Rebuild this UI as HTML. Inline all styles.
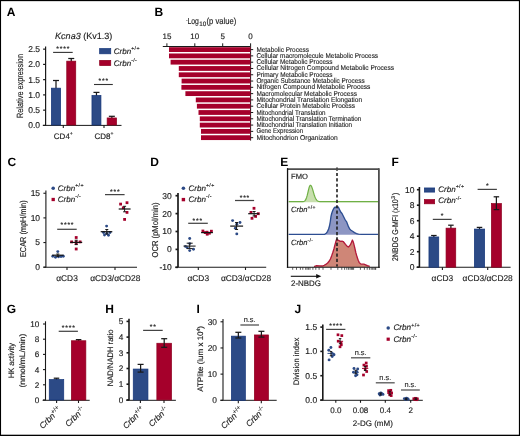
<!DOCTYPE html>
<html><head><meta charset="utf-8"><style>
html,body{margin:0;padding:0;background:#fff;}
body{width:520px;height:436px;overflow:hidden;}
svg{display:block;font-family:"Liberation Sans", sans-serif;-webkit-font-smoothing:antialiased;will-change:transform;}
text{text-rendering:geometricPrecision;stroke:#222;stroke-width:0.15px;}
text[font-weight=bold]{stroke:none;}
</style></head><body>
<svg width="520" height="436" viewBox="0 0 520 436" font-family='"Liberation Sans", sans-serif'>
<rect x="0" y="0" width="520" height="436" fill="#fff"/>
<text x="6.80" y="15.90" font-size="12" text-anchor="start" fill="#000" font-weight="bold" font-style="normal" >A</text>
<text x="55.1" y="39.2" font-size="9" fill="#222" textLength="57.2" lengthAdjust="spacingAndGlyphs"><tspan font-style="italic">Kcna3</tspan> (Kv1.3)</text>
<line x1="45.60" y1="46.45" x2="45.60" y2="125.40" stroke="#1a1a1a" stroke-width="1.2" />
<line x1="43.10" y1="125.40" x2="45.60" y2="125.40" stroke="#1a1a1a" stroke-width="1.2" />
<text x="40.10" y="128.30" font-size="8.5" text-anchor="end" fill="#222" font-weight="normal" font-style="normal" class="t" >0.0</text>
<line x1="43.10" y1="110.15" x2="45.60" y2="110.15" stroke="#1a1a1a" stroke-width="1.2" />
<text x="40.10" y="113.05" font-size="8.5" text-anchor="end" fill="#222" font-weight="normal" font-style="normal" class="t" >0.5</text>
<line x1="43.10" y1="94.90" x2="45.60" y2="94.90" stroke="#1a1a1a" stroke-width="1.2" />
<text x="40.10" y="97.80" font-size="8.5" text-anchor="end" fill="#222" font-weight="normal" font-style="normal" class="t" >1.0</text>
<line x1="43.10" y1="79.65" x2="45.60" y2="79.65" stroke="#1a1a1a" stroke-width="1.2" />
<text x="40.10" y="82.55" font-size="8.5" text-anchor="end" fill="#222" font-weight="normal" font-style="normal" class="t" >1.5</text>
<line x1="43.10" y1="64.40" x2="45.60" y2="64.40" stroke="#1a1a1a" stroke-width="1.2" />
<text x="40.10" y="67.30" font-size="8.5" text-anchor="end" fill="#222" font-weight="normal" font-style="normal" class="t" >2.0</text>
<line x1="43.10" y1="49.15" x2="45.60" y2="49.15" stroke="#1a1a1a" stroke-width="1.2" />
<text x="40.10" y="52.05" font-size="8.5" text-anchor="end" fill="#222" font-weight="normal" font-style="normal" class="t" >2.5</text>
<line x1="42.80" y1="125.40" x2="121.50" y2="125.40" stroke="#1a1a1a" stroke-width="1.0" />
<line x1="63.30" y1="125.00" x2="63.30" y2="128.00" stroke="#1a1a1a" stroke-width="1.1" />
<line x1="104.00" y1="125.00" x2="104.00" y2="128.00" stroke="#1a1a1a" stroke-width="1.1" />
<text transform="translate(22.70,86.00) rotate(-90)" x="0" y="0" font-size="9" text-anchor="middle" fill="#222" textLength="64.00" lengthAdjust="spacingAndGlyphs">Relative expression</text>
<text x="63.3" y="138.8" font-size="8" text-anchor="middle" fill="#222">CD4<tspan font-size="5" dy="-3.5">+</tspan></text>
<text x="104" y="138.8" font-size="8" text-anchor="middle" fill="#222">CD8<tspan font-size="5" dy="-3.5">+</tspan></text>
<line x1="56.00" y1="88.80" x2="56.00" y2="80.50" stroke="#1a1a1a" stroke-width="1.25" />
<line x1="53.00" y1="80.50" x2="59.00" y2="80.50" stroke="#1a1a1a" stroke-width="1.25" />
<rect x="51.35" y="88.15" width="9.30" height="36.85" fill="#2c4a86" stroke="#15357a" stroke-width="0.7"/>
<line x1="71.25" y1="61.80" x2="71.25" y2="58.50" stroke="#1a1a1a" stroke-width="1.25" />
<line x1="68.25" y1="58.50" x2="74.25" y2="58.50" stroke="#1a1a1a" stroke-width="1.25" />
<rect x="66.75" y="61.15" width="9.00" height="63.85" fill="#a5002b" stroke="#8e001f" stroke-width="0.7"/>
<line x1="96.45" y1="96.10" x2="96.45" y2="92.40" stroke="#1a1a1a" stroke-width="1.25" />
<line x1="93.45" y1="92.40" x2="99.45" y2="92.40" stroke="#1a1a1a" stroke-width="1.25" />
<rect x="91.95" y="95.45" width="9.00" height="29.55" fill="#2c4a86" stroke="#15357a" stroke-width="0.7"/>
<line x1="111.85" y1="118.60" x2="111.85" y2="116.30" stroke="#1a1a1a" stroke-width="1.25" />
<line x1="108.85" y1="116.30" x2="114.85" y2="116.30" stroke="#1a1a1a" stroke-width="1.25" />
<rect x="107.15" y="117.95" width="9.40" height="7.05" fill="#a5002b" stroke="#8e001f" stroke-width="0.7"/>
<line x1="53.10" y1="52.40" x2="72.70" y2="52.40" stroke="#333" stroke-width="1.1" />
<text x="57.62" y="50.90" font-size="6.8" text-anchor="middle" fill="#222">*</text>
<text x="61.08" y="50.90" font-size="6.8" text-anchor="middle" fill="#222">*</text>
<text x="64.53" y="50.90" font-size="6.8" text-anchor="middle" fill="#222">*</text>
<text x="67.97" y="50.90" font-size="6.8" text-anchor="middle" fill="#222">*</text>
<line x1="94.00" y1="84.50" x2="112.80" y2="84.50" stroke="#333" stroke-width="1.1" />
<text x="99.95" y="83.20" font-size="6.8" text-anchor="middle" fill="#222">*</text>
<text x="103.40" y="83.20" font-size="6.8" text-anchor="middle" fill="#222">*</text>
<text x="106.85" y="83.20" font-size="6.8" text-anchor="middle" fill="#222">*</text>
<rect x="99.65" y="48.55" width="11.10" height="5.25" fill="#2c4a86" stroke="#15357a" stroke-width="0.7"/>
<rect x="99.65" y="60.35" width="11.10" height="5.25" fill="#a5002b" stroke="#8e001f" stroke-width="0.7"/>
<text x="113.80" y="53.80" font-size="8" fill="#222" text-anchor="start"><tspan font-style="italic">Crbn</tspan><tspan font-size="5.28" dy="-3.60" letter-spacing="0.35" style="stroke-width:0.15px">+/+</tspan></text>
<text x="113.80" y="65.50" font-size="8" fill="#222" text-anchor="start"><tspan font-style="italic">Crbn</tspan><tspan font-size="5.28" dy="-3.60" letter-spacing="0.35" style="stroke-width:0.15px">-/-</tspan></text>
<text x="154.60" y="15.90" font-size="12" text-anchor="start" fill="#000" font-weight="bold" font-style="normal" >B</text>
<text x="186.90" y="21.60" font-size="5" text-anchor="middle" fill="#222" font-weight="normal" font-style="normal" class="t" >-</text>
<text x="187.40" y="24.30" font-size="8.8" text-anchor="start" fill="#222" font-weight="normal" font-style="normal" textLength="11.40" lengthAdjust="spacingAndGlyphs" class="t" >Log</text>
<text x="199.20" y="26.10" font-size="6.5" text-anchor="start" fill="#222" font-weight="normal" font-style="normal" textLength="7.00" lengthAdjust="spacingAndGlyphs" class="t" >10</text>
<text x="206.50" y="24.30" font-size="8.8" text-anchor="start" fill="#222" font-weight="normal" font-style="normal" textLength="29.80" lengthAdjust="spacingAndGlyphs" class="t" >(p value)</text>
<line x1="162.80" y1="46.50" x2="250.60" y2="46.50" stroke="#1a1a1a" stroke-width="1.0" />
<line x1="166.90" y1="43.30" x2="166.90" y2="46.50" stroke="#1a1a1a" stroke-width="1.0" />
<text x="166.90" y="38.80" font-size="8" text-anchor="middle" fill="#222" font-weight="normal" font-style="normal" class="t" >15</text>
<line x1="194.80" y1="43.30" x2="194.80" y2="46.50" stroke="#1a1a1a" stroke-width="1.0" />
<text x="194.80" y="38.80" font-size="8" text-anchor="middle" fill="#222" font-weight="normal" font-style="normal" class="t" >10</text>
<line x1="222.70" y1="43.30" x2="222.70" y2="46.50" stroke="#1a1a1a" stroke-width="1.0" />
<text x="222.70" y="38.80" font-size="8" text-anchor="middle" fill="#222" font-weight="normal" font-style="normal" class="t" >5</text>
<line x1="250.60" y1="43.30" x2="250.60" y2="46.50" stroke="#1a1a1a" stroke-width="1.0" />
<text x="250.60" y="38.80" font-size="8" text-anchor="middle" fill="#222" font-weight="normal" font-style="normal" class="t" >0</text>
<line x1="250.60" y1="46.50" x2="250.60" y2="140.60" stroke="#1a1a1a" stroke-width="1.0" />
<rect x="169.00" y="47.20" width="81.60" height="4.80" fill="#a5002b" />
<line x1="250.60" y1="49.60" x2="253.20" y2="49.60" stroke="#1a1a1a" stroke-width="1.0" />
<text x="256.40" y="51.60" font-size="7.0" text-anchor="start" fill="#222" font-weight="normal" font-style="normal" textLength="52.50" lengthAdjust="spacingAndGlyphs" class="t" style="stroke-width:0.12px">Metabolic Process</text>
<rect x="169.00" y="53.49" width="81.60" height="4.80" fill="#a5002b" />
<line x1="250.60" y1="55.89" x2="253.20" y2="55.89" stroke="#1a1a1a" stroke-width="1.0" />
<text x="256.40" y="57.89" font-size="7.0" text-anchor="start" fill="#222" font-weight="normal" font-style="normal" textLength="121.70" lengthAdjust="spacingAndGlyphs" class="t" style="stroke-width:0.12px">Cellular macromolecule Metabolic Process</text>
<rect x="170.60" y="59.78" width="80.00" height="4.80" fill="#a5002b" />
<line x1="250.60" y1="62.18" x2="253.20" y2="62.18" stroke="#1a1a1a" stroke-width="1.0" />
<text x="256.40" y="64.18" font-size="7.0" text-anchor="start" fill="#222" font-weight="normal" font-style="normal" textLength="76.10" lengthAdjust="spacingAndGlyphs" class="t" style="stroke-width:0.12px">Cellular Metabolic Process</text>
<rect x="178.80" y="66.07" width="71.80" height="4.80" fill="#a5002b" />
<line x1="250.60" y1="68.47" x2="253.20" y2="68.47" stroke="#1a1a1a" stroke-width="1.0" />
<text x="256.40" y="70.47" font-size="7.0" text-anchor="start" fill="#222" font-weight="normal" font-style="normal" textLength="137.60" lengthAdjust="spacingAndGlyphs" class="t" style="stroke-width:0.12px">Cellular Nitrogen Compound Metabolic Process</text>
<rect x="178.80" y="72.36" width="71.80" height="4.80" fill="#a5002b" />
<line x1="250.60" y1="74.76" x2="253.20" y2="74.76" stroke="#1a1a1a" stroke-width="1.0" />
<text x="256.40" y="76.76" font-size="7.0" text-anchor="start" fill="#222" font-weight="normal" font-style="normal" textLength="76.10" lengthAdjust="spacingAndGlyphs" class="t" style="stroke-width:0.12px">Primary Metabolic Process</text>
<rect x="181.60" y="78.65" width="69.00" height="4.80" fill="#a5002b" />
<line x1="250.60" y1="81.05" x2="253.20" y2="81.05" stroke="#1a1a1a" stroke-width="1.0" />
<text x="256.40" y="83.05" font-size="7.0" text-anchor="start" fill="#222" font-weight="normal" font-style="normal" textLength="108.20" lengthAdjust="spacingAndGlyphs" class="t" style="stroke-width:0.12px">Organic Substance Metabolic Process</text>
<rect x="181.40" y="84.94" width="69.20" height="4.80" fill="#a5002b" />
<line x1="250.60" y1="87.34" x2="253.20" y2="87.34" stroke="#1a1a1a" stroke-width="1.0" />
<text x="256.40" y="89.34" font-size="7.0" text-anchor="start" fill="#222" font-weight="normal" font-style="normal" textLength="114.00" lengthAdjust="spacingAndGlyphs" class="t" style="stroke-width:0.12px">Nitrogen Compound Metabolic Process</text>
<rect x="185.40" y="91.23" width="65.20" height="4.80" fill="#a5002b" />
<line x1="250.60" y1="93.63" x2="253.20" y2="93.63" stroke="#1a1a1a" stroke-width="1.0" />
<text x="256.40" y="95.63" font-size="7.0" text-anchor="start" fill="#222" font-weight="normal" font-style="normal" textLength="100.50" lengthAdjust="spacingAndGlyphs" class="t" style="stroke-width:0.12px">Macromolecular Metabolic Process</text>
<rect x="195.80" y="97.52" width="54.80" height="4.80" fill="#a5002b" />
<line x1="250.60" y1="99.92" x2="253.20" y2="99.92" stroke="#1a1a1a" stroke-width="1.0" />
<text x="256.40" y="101.92" font-size="7.0" text-anchor="start" fill="#222" font-weight="normal" font-style="normal" textLength="105.70" lengthAdjust="spacingAndGlyphs" class="t" style="stroke-width:0.12px">Mitochondrial Translation Elongation</text>
<rect x="196.90" y="103.81" width="53.70" height="4.80" fill="#a5002b" />
<line x1="250.60" y1="106.21" x2="253.20" y2="106.21" stroke="#1a1a1a" stroke-width="1.0" />
<text x="256.40" y="108.21" font-size="7.0" text-anchor="start" fill="#222" font-weight="normal" font-style="normal" textLength="98.60" lengthAdjust="spacingAndGlyphs" class="t" style="stroke-width:0.12px">Cellular Protein Metabolic Process</text>
<rect x="198.50" y="110.10" width="52.10" height="4.80" fill="#a5002b" />
<line x1="250.60" y1="112.50" x2="253.20" y2="112.50" stroke="#1a1a1a" stroke-width="1.0" />
<text x="256.40" y="114.50" font-size="7.0" text-anchor="start" fill="#222" font-weight="normal" font-style="normal" textLength="69.20" lengthAdjust="spacingAndGlyphs" class="t" style="stroke-width:0.12px">Mitochondrial Translation</text>
<rect x="199.80" y="116.39" width="50.80" height="4.80" fill="#a5002b" />
<line x1="250.60" y1="118.79" x2="253.20" y2="118.79" stroke="#1a1a1a" stroke-width="1.0" />
<text x="256.40" y="120.79" font-size="7.0" text-anchor="start" fill="#222" font-weight="normal" font-style="normal" textLength="105.00" lengthAdjust="spacingAndGlyphs" class="t" style="stroke-width:0.12px">Mitochondrial Translation Termination</text>
<rect x="199.80" y="122.68" width="50.80" height="4.80" fill="#a5002b" />
<line x1="250.60" y1="125.08" x2="253.20" y2="125.08" stroke="#1a1a1a" stroke-width="1.0" />
<text x="256.40" y="127.08" font-size="7.0" text-anchor="start" fill="#222" font-weight="normal" font-style="normal" textLength="95.70" lengthAdjust="spacingAndGlyphs" class="t" style="stroke-width:0.12px">Mitochondrial Translation Initiation</text>
<rect x="201.00" y="128.97" width="49.60" height="4.80" fill="#a5002b" />
<line x1="250.60" y1="131.37" x2="253.20" y2="131.37" stroke="#1a1a1a" stroke-width="1.0" />
<text x="256.40" y="133.37" font-size="7.0" text-anchor="start" fill="#222" font-weight="normal" font-style="normal" textLength="46.70" lengthAdjust="spacingAndGlyphs" class="t" style="stroke-width:0.12px">Gene Expression</text>
<rect x="201.00" y="135.26" width="49.60" height="4.80" fill="#a5002b" />
<line x1="250.60" y1="137.66" x2="253.20" y2="137.66" stroke="#1a1a1a" stroke-width="1.0" />
<text x="256.40" y="139.66" font-size="7.0" text-anchor="start" fill="#222" font-weight="normal" font-style="normal" textLength="81.30" lengthAdjust="spacingAndGlyphs" class="t" style="stroke-width:0.12px">Mitochondrion Organization</text>
<text x="7.60" y="166.10" font-size="12" text-anchor="start" fill="#000" font-weight="bold" font-style="normal" >C</text>
<line x1="45.90" y1="190.55" x2="45.90" y2="267.20" stroke="#1a1a1a" stroke-width="1.1" />
<line x1="43.40" y1="267.20" x2="45.90" y2="267.20" stroke="#1a1a1a" stroke-width="1.1" />
<text x="40.10" y="270.10" font-size="8.5" text-anchor="end" fill="#222" font-weight="normal" font-style="normal" class="t" >0</text>
<line x1="43.40" y1="242.55" x2="45.90" y2="242.55" stroke="#1a1a1a" stroke-width="1.1" />
<text x="40.10" y="245.45" font-size="8.5" text-anchor="end" fill="#222" font-weight="normal" font-style="normal" class="t" >5</text>
<line x1="43.40" y1="217.90" x2="45.90" y2="217.90" stroke="#1a1a1a" stroke-width="1.1" />
<text x="40.10" y="220.80" font-size="8.5" text-anchor="end" fill="#222" font-weight="normal" font-style="normal" class="t" >10</text>
<line x1="43.40" y1="193.25" x2="45.90" y2="193.25" stroke="#1a1a1a" stroke-width="1.1" />
<text x="40.10" y="196.15" font-size="8.5" text-anchor="end" fill="#222" font-weight="normal" font-style="normal" class="t" >15</text>
<line x1="43.40" y1="267.20" x2="46.00" y2="267.20" stroke="#1a1a1a" stroke-width="1.1" />
<line x1="46.00" y1="267.20" x2="137.00" y2="267.20" stroke="#1a1a1a" stroke-width="1.1" />
<line x1="67.00" y1="267.20" x2="67.00" y2="270.00" stroke="#1a1a1a" stroke-width="1.1" />
<line x1="115.00" y1="267.20" x2="115.00" y2="270.00" stroke="#1a1a1a" stroke-width="1.1" />
<text x="67.00" y="280.60" font-size="8.4" text-anchor="middle" fill="#222" font-weight="normal" font-style="normal" class="t" >αCD3</text>
<text x="115.30" y="280.60" font-size="8.4" text-anchor="middle" fill="#222" font-weight="normal" font-style="normal" class="t" >αCD3/αCD28</text>
<text transform="translate(26.20,228.70) rotate(-90)" x="0" y="0" font-size="8.6" text-anchor="middle" fill="#222" textLength="56.70" lengthAdjust="spacingAndGlyphs">ECAR (mpH/min)</text>
<circle cx="53.20" cy="188.20" r="1.8" fill="#2c4a86"/>
<text x="57.80" y="190.60" font-size="8" fill="#222" text-anchor="start"><tspan font-style="italic">Crbn</tspan><tspan font-size="5.28" dy="-3.60" letter-spacing="0.35" style="stroke-width:0.15px">+/+</tspan></text>
<rect x="51.55" y="197.85" width="3.3" height="3.3" fill="#a5002b"/>
<text x="57.80" y="201.80" font-size="8" fill="#222" text-anchor="start"><tspan font-style="italic">Crbn</tspan><tspan font-size="5.28" dy="-3.60" letter-spacing="0.35" style="stroke-width:0.15px">-/-</tspan></text>
<circle cx="57.80" cy="251.60" r="1.45" fill="#2c4a86"/>
<circle cx="52.80" cy="256.30" r="1.45" fill="#2c4a86"/>
<circle cx="55.50" cy="257.20" r="1.45" fill="#2c4a86"/>
<circle cx="58.50" cy="256.80" r="1.45" fill="#2c4a86"/>
<circle cx="61.00" cy="256.50" r="1.45" fill="#2c4a86"/>
<circle cx="63.30" cy="256.20" r="1.45" fill="#2c4a86"/>
<line x1="52.20" y1="255.20" x2="63.60" y2="255.20" stroke="#111" stroke-width="1.2" />
<line x1="57.80" y1="254.00" x2="57.80" y2="256.50" stroke="#1a1a1a" stroke-width="1.0" />
<line x1="56.30" y1="254.00" x2="59.30" y2="254.00" stroke="#1a1a1a" stroke-width="1.0" />
<line x1="56.30" y1="256.50" x2="59.30" y2="256.50" stroke="#1a1a1a" stroke-width="1.0" />
<rect x="74.80" y="236.10" width="2.8" height="2.8" fill="#a5002b"/>
<rect x="70.20" y="240.50" width="2.8" height="2.8" fill="#a5002b"/>
<rect x="74.80" y="240.50" width="2.8" height="2.8" fill="#a5002b"/>
<rect x="78.70" y="240.50" width="2.8" height="2.8" fill="#a5002b"/>
<rect x="74.80" y="242.20" width="2.8" height="2.8" fill="#a5002b"/>
<rect x="74.80" y="247.60" width="2.8" height="2.8" fill="#a5002b"/>
<line x1="70.20" y1="242.40" x2="82.20" y2="242.40" stroke="#111" stroke-width="1.2" />
<line x1="76.20" y1="240.20" x2="76.20" y2="244.60" stroke="#1a1a1a" stroke-width="1.0" />
<line x1="74.70" y1="240.20" x2="77.70" y2="240.20" stroke="#1a1a1a" stroke-width="1.0" />
<line x1="74.70" y1="244.60" x2="77.70" y2="244.60" stroke="#1a1a1a" stroke-width="1.0" />
<line x1="57.20" y1="229.30" x2="76.70" y2="229.30" stroke="#444" stroke-width="1.25" />
<text x="61.83" y="227.40" font-size="6.8" text-anchor="middle" fill="#222">*</text>
<text x="65.28" y="227.40" font-size="6.8" text-anchor="middle" fill="#222">*</text>
<text x="68.73" y="227.40" font-size="6.8" text-anchor="middle" fill="#222">*</text>
<text x="72.18" y="227.40" font-size="6.8" text-anchor="middle" fill="#222">*</text>
<circle cx="106.60" cy="226.10" r="1.45" fill="#2c4a86"/>
<circle cx="103.50" cy="232.50" r="1.45" fill="#2c4a86"/>
<circle cx="110.00" cy="232.50" r="1.45" fill="#2c4a86"/>
<circle cx="104.50" cy="235.00" r="1.45" fill="#2c4a86"/>
<circle cx="108.50" cy="235.30" r="1.45" fill="#2c4a86"/>
<circle cx="106.80" cy="233.50" r="1.45" fill="#2c4a86"/>
<line x1="100.70" y1="231.70" x2="112.30" y2="231.70" stroke="#111" stroke-width="1.2" />
<line x1="106.80" y1="229.50" x2="106.80" y2="234.00" stroke="#1a1a1a" stroke-width="1.0" />
<line x1="105.30" y1="229.50" x2="108.30" y2="229.50" stroke="#1a1a1a" stroke-width="1.0" />
<line x1="105.30" y1="234.00" x2="108.30" y2="234.00" stroke="#1a1a1a" stroke-width="1.0" />
<rect x="119.20" y="202.70" width="2.8" height="2.8" fill="#a5002b"/>
<rect x="125.60" y="201.30" width="2.8" height="2.8" fill="#a5002b"/>
<rect x="121.90" y="206.40" width="2.8" height="2.8" fill="#a5002b"/>
<rect x="125.60" y="211.00" width="2.8" height="2.8" fill="#a5002b"/>
<rect x="123.20" y="218.00" width="2.8" height="2.8" fill="#a5002b"/>
<line x1="118.70" y1="209.00" x2="130.60" y2="209.00" stroke="#111" stroke-width="1.2" />
<line x1="124.60" y1="206.30" x2="124.60" y2="211.80" stroke="#1a1a1a" stroke-width="1.0" />
<line x1="123.10" y1="206.30" x2="126.10" y2="206.30" stroke="#1a1a1a" stroke-width="1.0" />
<line x1="123.10" y1="211.80" x2="126.10" y2="211.80" stroke="#1a1a1a" stroke-width="1.0" />
<line x1="105.00" y1="194.60" x2="124.60" y2="194.60" stroke="#444" stroke-width="1.25" />
<text x="111.35" y="194.20" font-size="6.8" text-anchor="middle" fill="#222">*</text>
<text x="114.80" y="194.20" font-size="6.8" text-anchor="middle" fill="#222">*</text>
<text x="118.25" y="194.20" font-size="6.8" text-anchor="middle" fill="#222">*</text>
<text x="150.30" y="166.10" font-size="12" text-anchor="start" fill="#000" font-weight="bold" font-style="normal" >D</text>
<line x1="178.00" y1="193.00" x2="178.00" y2="267.20" stroke="#1a1a1a" stroke-width="1.7" />
<line x1="175.50" y1="267.30" x2="178.00" y2="267.30" stroke="#1a1a1a" stroke-width="1.7" />
<text x="171.80" y="270.20" font-size="8.5" text-anchor="end" fill="#222" font-weight="normal" font-style="normal" class="t" >-10</text>
<line x1="175.50" y1="249.40" x2="178.00" y2="249.40" stroke="#1a1a1a" stroke-width="1.7" />
<text x="171.80" y="252.30" font-size="8.5" text-anchor="end" fill="#222" font-weight="normal" font-style="normal" class="t" >0</text>
<line x1="175.50" y1="231.50" x2="178.00" y2="231.50" stroke="#1a1a1a" stroke-width="1.7" />
<text x="171.80" y="234.40" font-size="8.5" text-anchor="end" fill="#222" font-weight="normal" font-style="normal" class="t" >10</text>
<line x1="175.50" y1="213.60" x2="178.00" y2="213.60" stroke="#1a1a1a" stroke-width="1.7" />
<text x="171.80" y="216.50" font-size="8.5" text-anchor="end" fill="#222" font-weight="normal" font-style="normal" class="t" >20</text>
<line x1="175.50" y1="195.70" x2="178.00" y2="195.70" stroke="#1a1a1a" stroke-width="1.7" />
<text x="171.80" y="198.60" font-size="8.5" text-anchor="end" fill="#222" font-weight="normal" font-style="normal" class="t" >30</text>
<line x1="175.20" y1="267.20" x2="266.20" y2="267.20" stroke="#1a1a1a" stroke-width="1.1" />
<line x1="198.30" y1="267.20" x2="198.30" y2="270.00" stroke="#1a1a1a" stroke-width="1.1" />
<line x1="245.50" y1="267.20" x2="245.50" y2="270.00" stroke="#1a1a1a" stroke-width="1.1" />
<text x="198.30" y="280.60" font-size="8.4" text-anchor="middle" fill="#222" font-weight="normal" font-style="normal" class="t" >αCD3</text>
<text x="246.00" y="280.60" font-size="8.4" text-anchor="middle" fill="#222" font-weight="normal" font-style="normal" class="t" >αCD3/αCD28</text>
<text transform="translate(158.20,230.00) rotate(-90)" x="0" y="0" font-size="8.6" text-anchor="middle" fill="#222" textLength="55.00" lengthAdjust="spacingAndGlyphs">OCR (pMol/min)</text>
<circle cx="183.40" cy="188.30" r="1.8" fill="#2c4a86"/>
<text x="188.60" y="190.60" font-size="8" fill="#222" text-anchor="start"><tspan font-style="italic">Crbn</tspan><tspan font-size="5.28" dy="-3.60" letter-spacing="0.35" style="stroke-width:0.15px">+/+</tspan></text>
<rect x="181.70" y="197.90" width="3.4" height="3.4" fill="#a5002b"/>
<text x="188.60" y="201.80" font-size="8" fill="#222" text-anchor="start"><tspan font-style="italic">Crbn</tspan><tspan font-size="5.28" dy="-3.60" letter-spacing="0.35" style="stroke-width:0.15px">-/-</tspan></text>
<circle cx="189.70" cy="238.50" r="1.45" fill="#2c4a86"/>
<circle cx="185.50" cy="246.40" r="1.45" fill="#2c4a86"/>
<circle cx="189.70" cy="243.60" r="1.45" fill="#2c4a86"/>
<circle cx="193.50" cy="249.20" r="1.45" fill="#2c4a86"/>
<circle cx="189.70" cy="250.60" r="1.45" fill="#2c4a86"/>
<circle cx="187.20" cy="247.60" r="1.45" fill="#2c4a86"/>
<line x1="183.50" y1="246.10" x2="195.60" y2="246.10" stroke="#333" stroke-width="1.2" />
<line x1="189.70" y1="243.20" x2="189.70" y2="248.60" stroke="#1a1a1a" stroke-width="1.0" />
<line x1="186.70" y1="243.20" x2="192.70" y2="243.20" stroke="#1a1a1a" stroke-width="1.0" />
<line x1="186.70" y1="248.60" x2="192.70" y2="248.60" stroke="#1a1a1a" stroke-width="1.0" />
<rect x="201.50" y="229.60" width="2.8" height="2.8" fill="#a5002b"/>
<rect x="203.80" y="231.20" width="2.8" height="2.8" fill="#a5002b"/>
<rect x="205.80" y="232.80" width="2.8" height="2.8" fill="#a5002b"/>
<rect x="208.00" y="231.80" width="2.8" height="2.8" fill="#a5002b"/>
<rect x="210.00" y="229.80" width="2.8" height="2.8" fill="#a5002b"/>
<rect x="205.60" y="230.80" width="2.8" height="2.8" fill="#a5002b"/>
<line x1="201.10" y1="232.60" x2="212.90" y2="232.60" stroke="#111" stroke-width="1.2" />
<line x1="188.20" y1="223.30" x2="207.80" y2="223.30" stroke="#444" stroke-width="1.25" />
<text x="193.95" y="222.65" font-size="6.8" text-anchor="middle" fill="#222">*</text>
<text x="197.40" y="222.65" font-size="6.8" text-anchor="middle" fill="#222">*</text>
<text x="200.85" y="222.65" font-size="6.8" text-anchor="middle" fill="#222">*</text>
<circle cx="232.60" cy="220.60" r="1.45" fill="#2c4a86"/>
<circle cx="240.00" cy="222.50" r="1.45" fill="#2c4a86"/>
<circle cx="236.80" cy="224.30" r="1.45" fill="#2c4a86"/>
<circle cx="235.40" cy="228.30" r="1.45" fill="#2c4a86"/>
<circle cx="236.80" cy="233.90" r="1.45" fill="#2c4a86"/>
<line x1="230.20" y1="226.10" x2="243.10" y2="226.10" stroke="#111" stroke-width="1.2" />
<line x1="236.60" y1="222.50" x2="236.60" y2="229.50" stroke="#1a1a1a" stroke-width="1.0" />
<line x1="235.10" y1="222.50" x2="238.10" y2="222.50" stroke="#1a1a1a" stroke-width="1.0" />
<line x1="235.10" y1="229.50" x2="238.10" y2="229.50" stroke="#1a1a1a" stroke-width="1.0" />
<rect x="252.60" y="206.90" width="2.8" height="2.8" fill="#a5002b"/>
<rect x="249.60" y="211.00" width="2.8" height="2.8" fill="#a5002b"/>
<rect x="256.90" y="212.30" width="2.8" height="2.8" fill="#a5002b"/>
<rect x="250.60" y="216.90" width="2.8" height="2.8" fill="#a5002b"/>
<rect x="254.20" y="215.00" width="2.8" height="2.8" fill="#a5002b"/>
<line x1="248.20" y1="213.70" x2="259.20" y2="213.70" stroke="#111" stroke-width="1.2" />
<line x1="254.10" y1="211.50" x2="254.10" y2="216.00" stroke="#1a1a1a" stroke-width="1.0" />
<line x1="252.60" y1="211.50" x2="255.60" y2="211.50" stroke="#1a1a1a" stroke-width="1.0" />
<line x1="252.60" y1="216.00" x2="255.60" y2="216.00" stroke="#1a1a1a" stroke-width="1.0" />
<line x1="235.00" y1="200.50" x2="254.10" y2="200.50" stroke="#444" stroke-width="1.25" />
<text x="241.05" y="199.80" font-size="6.8" text-anchor="middle" fill="#222">*</text>
<text x="244.50" y="199.80" font-size="6.8" text-anchor="middle" fill="#222">*</text>
<text x="247.95" y="199.80" font-size="6.8" text-anchor="middle" fill="#222">*</text>
<text x="280.30" y="165.80" font-size="12" text-anchor="start" fill="#000" font-weight="bold" font-style="normal" >E</text>
<path d="M288.70,202.30 L288.70,201.70 L289.20,201.70 L289.70,201.70 L290.20,201.70 L290.70,201.70 L291.20,201.70 L291.70,201.70 L292.20,201.70 L292.70,201.70 L293.20,201.70 L293.70,201.70 L294.20,201.70 L294.70,201.70 L295.20,201.70 L295.70,201.70 L296.20,201.70 L296.70,201.70 L297.20,201.70 L297.70,201.70 L298.20,201.70 L298.70,201.70 L299.20,201.70 L299.70,201.70 L300.20,201.70 L300.70,201.70 L301.20,201.69 L301.70,201.69 L302.20,201.67 L302.70,201.64 L303.20,201.58 L303.70,201.46 L304.20,201.26 L304.70,200.93 L305.20,200.42 L305.70,199.65 L306.20,198.59 L306.70,197.18 L307.20,195.43 L307.70,193.42 L308.20,191.26 L308.70,189.14 L309.20,187.30 L309.70,185.95 L310.20,185.26 L310.70,185.29 L311.20,185.82 L311.70,186.78 L312.20,188.09 L312.70,189.65 L313.20,191.35 L313.70,193.06 L314.20,194.71 L314.70,196.20 L315.20,197.51 L315.70,198.59 L316.20,199.47 L316.70,200.14 L317.20,200.64 L317.70,201.01 L318.20,201.26 L318.70,201.43 L319.20,201.53 L319.70,201.60 L320.20,201.65 L320.70,201.67 L321.20,201.68 L321.70,201.69 L322.20,201.70 L322.70,201.70 L323.20,201.70 L323.70,201.70 L324.20,201.70 L324.70,201.70 L325.20,201.70 L325.70,201.70 L326.20,201.70 L326.70,201.70 L327.20,201.70 L327.70,201.70 L328.20,201.70 L328.70,201.70 L329.20,201.70 L329.70,201.70 L330.20,201.70 L330.70,201.70 L331.20,201.70 L331.70,201.70 L332.20,201.70 L332.70,201.70 L333.20,201.70 L333.70,201.70 L334.20,201.70 L334.70,201.70 L335.20,201.70 L335.70,201.70 L336.20,201.70 L336.70,201.70 L337.20,201.70 L337.70,201.70 L338.20,201.70 L338.70,201.70 L339.20,201.70 L339.70,201.70 L340.20,201.70 L340.70,201.70 L341.20,201.70 L341.70,201.70 L342.20,201.70 L342.70,201.70 L343.20,201.70 L343.70,201.70 L344.20,201.70 L344.70,201.70 L345.20,201.70 L345.70,201.70 L346.20,201.70 L346.70,201.70 L347.20,201.70 L347.70,201.70 L348.20,201.70 L348.70,201.70 L349.20,201.70 L349.70,201.70 L350.20,201.70 L350.70,201.70 L351.20,201.70 L351.70,201.70 L352.20,201.70 L352.70,201.70 L353.20,201.70 L353.70,201.70 L354.20,201.70 L354.70,201.70 L355.20,201.70 L355.70,201.70 L356.20,201.70 L356.70,201.70 L357.20,201.70 L357.70,201.70 L358.20,201.70 L358.70,201.70 L359.20,201.70 L359.70,201.70 L360.20,201.70 L360.70,201.70 L361.20,201.70 L361.70,201.70 L362.20,201.70 L362.70,201.70 L363.20,201.70 L363.70,201.70 L364.20,201.70 L364.70,201.70 L365.20,201.70 L365.70,201.70 L366.20,201.70 L366.70,201.70 L367.20,201.70 L367.70,201.70 L368.20,201.70 L368.70,201.70 L369.20,201.70 L369.70,201.70 L370.20,201.70 L370.70,201.70 L371.20,201.70 L371.70,201.70 L372.20,201.70 L372.70,201.70 L373.20,201.70 L373.70,201.70 L374.20,201.70 L374.70,201.70 L375.20,201.70 L375.70,201.70 L376.20,201.70 L376.70,201.70 L377.20,201.70 L377.70,201.70 L378.20,201.70 L378.20,202.30 Z" fill="#c8dfae" stroke="none"/>
<path d="M288.70,201.70 L289.20,201.70 L289.70,201.70 L290.20,201.70 L290.70,201.70 L291.20,201.70 L291.70,201.70 L292.20,201.70 L292.70,201.70 L293.20,201.70 L293.70,201.70 L294.20,201.70 L294.70,201.70 L295.20,201.70 L295.70,201.70 L296.20,201.70 L296.70,201.70 L297.20,201.70 L297.70,201.70 L298.20,201.70 L298.70,201.70 L299.20,201.70 L299.70,201.70 L300.20,201.70 L300.70,201.70 L301.20,201.69 L301.70,201.69 L302.20,201.67 L302.70,201.64 L303.20,201.58 L303.70,201.46 L304.20,201.26 L304.70,200.93 L305.20,200.42 L305.70,199.65 L306.20,198.59 L306.70,197.18 L307.20,195.43 L307.70,193.42 L308.20,191.26 L308.70,189.14 L309.20,187.30 L309.70,185.95 L310.20,185.26 L310.70,185.29 L311.20,185.82 L311.70,186.78 L312.20,188.09 L312.70,189.65 L313.20,191.35 L313.70,193.06 L314.20,194.71 L314.70,196.20 L315.20,197.51 L315.70,198.59 L316.20,199.47 L316.70,200.14 L317.20,200.64 L317.70,201.01 L318.20,201.26 L318.70,201.43 L319.20,201.53 L319.70,201.60 L320.20,201.65 L320.70,201.67 L321.20,201.68 L321.70,201.69 L322.20,201.70 L322.70,201.70 L323.20,201.70 L323.70,201.70 L324.20,201.70 L324.70,201.70 L325.20,201.70 L325.70,201.70 L326.20,201.70 L326.70,201.70 L327.20,201.70 L327.70,201.70 L328.20,201.70 L328.70,201.70 L329.20,201.70 L329.70,201.70 L330.20,201.70 L330.70,201.70 L331.20,201.70 L331.70,201.70 L332.20,201.70 L332.70,201.70 L333.20,201.70 L333.70,201.70 L334.20,201.70 L334.70,201.70 L335.20,201.70 L335.70,201.70 L336.20,201.70 L336.70,201.70 L337.20,201.70 L337.70,201.70 L338.20,201.70 L338.70,201.70 L339.20,201.70 L339.70,201.70 L340.20,201.70 L340.70,201.70 L341.20,201.70 L341.70,201.70 L342.20,201.70 L342.70,201.70 L343.20,201.70 L343.70,201.70 L344.20,201.70 L344.70,201.70 L345.20,201.70 L345.70,201.70 L346.20,201.70 L346.70,201.70 L347.20,201.70 L347.70,201.70 L348.20,201.70 L348.70,201.70 L349.20,201.70 L349.70,201.70 L350.20,201.70 L350.70,201.70 L351.20,201.70 L351.70,201.70 L352.20,201.70 L352.70,201.70 L353.20,201.70 L353.70,201.70 L354.20,201.70 L354.70,201.70 L355.20,201.70 L355.70,201.70 L356.20,201.70 L356.70,201.70 L357.20,201.70 L357.70,201.70 L358.20,201.70 L358.70,201.70 L359.20,201.70 L359.70,201.70 L360.20,201.70 L360.70,201.70 L361.20,201.70 L361.70,201.70 L362.20,201.70 L362.70,201.70 L363.20,201.70 L363.70,201.70 L364.20,201.70 L364.70,201.70 L365.20,201.70 L365.70,201.70 L366.20,201.70 L366.70,201.70 L367.20,201.70 L367.70,201.70 L368.20,201.70 L368.70,201.70 L369.20,201.70 L369.70,201.70 L370.20,201.70 L370.70,201.70 L371.20,201.70 L371.70,201.70 L372.20,201.70 L372.70,201.70 L373.20,201.70 L373.70,201.70 L374.20,201.70 L374.70,201.70 L375.20,201.70 L375.70,201.70 L376.20,201.70 L376.70,201.70 L377.20,201.70 L377.70,201.70 L378.20,201.70" fill="none" stroke="#6fb045" stroke-width="1.2"/>
<path d="M288.70,234.30 L324.70,234.30 L326.20,233.30 L327.60,231.30 L328.60,229.00 L329.50,226.00 L330.30,221.50 L331.00,216.40 L331.70,213.50 L332.40,211.60 L333.20,209.60 L333.90,208.30 L334.80,207.30 L335.50,207.60 L336.20,206.80 L336.75,206.50 L337.50,207.50 L338.20,207.00 L338.70,207.80 L339.60,209.70 L340.30,211.20 L341.10,212.60 L342.00,213.50 L343.00,215.50 L344.00,217.50 L344.90,219.30 L346.00,221.00 L346.80,222.20 L347.80,225.10 L348.70,227.20 L349.70,228.90 L351.00,230.20 L352.60,231.30 L354.50,232.60 L356.50,233.60 L358.50,234.10 L361.30,234.30 L378.40,234.30 L378.4,234.8 L288.7,234.8 Z" fill="#8d96c3" stroke="none"/>
<path d="M288.70,234.30 L324.70,234.30 L326.20,233.30 L327.60,231.30 L328.60,229.00 L329.50,226.00 L330.30,221.50 L331.00,216.40 L331.70,213.50 L332.40,211.60 L333.20,209.60 L333.90,208.30 L334.80,207.30 L335.50,207.60 L336.20,206.80 L336.75,206.50 L337.50,207.50 L338.20,207.00 L338.70,207.80 L339.60,209.70 L340.30,211.20 L341.10,212.60 L342.00,213.50 L343.00,215.50 L344.00,217.50 L344.90,219.30 L346.00,221.00 L346.80,222.20 L347.80,225.10 L348.70,227.20 L349.70,228.90 L351.00,230.20 L352.60,231.30 L354.50,232.60 L356.50,233.60 L358.50,234.10 L361.30,234.30 L378.40,234.30" fill="none" stroke="#2d4e92" stroke-width="1.35" stroke-linejoin="round"/>
<path d="M314,267.1 314.00,266.50 L316.60,265.70 L319.50,265.80 L322.40,266.00 L324.20,265.30 L325.80,264.40 L327.60,263.00 L329.30,261.00 L330.50,258.80 L331.60,255.90 L332.80,252.50 L333.90,249.00 L334.80,245.50 L335.70,242.10 L336.30,240.00 L336.80,239.20 L337.60,239.90 L338.50,240.30 L339.60,241.00 L340.80,241.30 L342.00,241.10 L343.20,241.50 L344.40,243.00 L345.50,244.40 L346.90,246.00 L348.30,247.10 L349.50,246.00 L350.70,244.20 L351.60,242.00 L352.40,240.00 L353.10,241.50 L353.80,243.80 L354.80,248.00 L355.80,252.50 L357.00,256.80 L358.20,260.30 L359.30,262.60 L360.50,263.80 L362.00,264.20 L363.90,264.20 L365.60,264.80 L367.40,265.70 L369.70,266.40 L369.7,267.1 Z" fill="#cf8677" stroke="none"/>
<path d="M314.00,266.50 L316.60,265.70 L319.50,265.80 L322.40,266.00 L324.20,265.30 L325.80,264.40 L327.60,263.00 L329.30,261.00 L330.50,258.80 L331.60,255.90 L332.80,252.50 L333.90,249.00 L334.80,245.50 L335.70,242.10 L336.30,240.00 L336.80,239.20 L337.60,239.90 L338.50,240.30 L339.60,241.00 L340.80,241.30 L342.00,241.10 L343.20,241.50 L344.40,243.00 L345.50,244.40 L346.90,246.00 L348.30,247.10 L349.50,246.00 L350.70,244.20 L351.60,242.00 L352.40,240.00 L353.10,241.50 L353.80,243.80 L354.80,248.00 L355.80,252.50 L357.00,256.80 L358.20,260.30 L359.30,262.60 L360.50,263.80 L362.00,264.20 L363.90,264.20 L365.60,264.80 L367.40,265.70 L369.70,266.40" fill="none" stroke="#b3193a" stroke-width="1.3" stroke-linejoin="round"/>
<line x1="337.00" y1="167.55" x2="337.00" y2="266.50" stroke="#1e1e1e" stroke-width="1.6" stroke-dasharray="3.2,2.17"/>
<line x1="287.00" y1="169.05" x2="379.00" y2="169.05" stroke="#4d4d4d" stroke-width="1.7" />
<line x1="378.90" y1="168.20" x2="378.90" y2="267.80" stroke="#4d4d4d" stroke-width="1.8" />
<line x1="287.55" y1="168.20" x2="287.55" y2="267.80" stroke="#111" stroke-width="1.3" />
<line x1="286.90" y1="267.30" x2="379.80" y2="267.30" stroke="#111" stroke-width="1.1" />
<text x="291.00" y="179.20" font-size="7.6" text-anchor="start" fill="#222" font-weight="normal" font-style="normal" class="t" >FMO</text>
<text x="291.00" y="212.40" font-size="7.6" fill="#222" text-anchor="start"><tspan font-style="italic">Crbn</tspan><tspan font-size="5.02" dy="-3.42" letter-spacing="0.35" style="stroke-width:0.15px">+/+</tspan></text>
<text x="291.00" y="245.40" font-size="7.6" fill="#222" text-anchor="start"><tspan font-style="italic">Crbn</tspan><tspan font-size="5.02" dy="-3.42" letter-spacing="0.35" style="stroke-width:0.15px">-/-</tspan></text>
<line x1="292.70" y1="267.00" x2="292.70" y2="269.80" stroke="#333" stroke-width="0.8" />
<line x1="296.50" y1="267.00" x2="296.50" y2="269.80" stroke="#333" stroke-width="0.8" />
<line x1="300.40" y1="267.00" x2="300.40" y2="269.80" stroke="#333" stroke-width="0.8" />
<line x1="302.80" y1="267.00" x2="302.80" y2="269.80" stroke="#333" stroke-width="0.8" />
<line x1="305.70" y1="267.00" x2="305.70" y2="269.80" stroke="#333" stroke-width="0.8" />
<line x1="307.10" y1="267.00" x2="307.10" y2="269.80" stroke="#333" stroke-width="0.8" />
<line x1="308.60" y1="267.00" x2="308.60" y2="269.80" stroke="#333" stroke-width="0.8" />
<line x1="310.00" y1="267.00" x2="310.00" y2="269.80" stroke="#333" stroke-width="0.8" />
<line x1="312.90" y1="267.00" x2="312.90" y2="269.80" stroke="#333" stroke-width="0.8" />
<line x1="315.80" y1="267.00" x2="315.80" y2="269.80" stroke="#333" stroke-width="0.8" />
<line x1="319.10" y1="267.00" x2="319.10" y2="269.80" stroke="#333" stroke-width="0.8" />
<line x1="323.00" y1="267.00" x2="323.00" y2="269.80" stroke="#333" stroke-width="0.8" />
<line x1="331.00" y1="267.00" x2="331.00" y2="269.80" stroke="#333" stroke-width="0.8" />
<line x1="337.80" y1="267.00" x2="337.80" y2="269.80" stroke="#333" stroke-width="0.8" />
<line x1="341.78" y1="267.00" x2="341.78" y2="269.80" stroke="#333" stroke-width="0.8" />
<line x1="344.61" y1="267.00" x2="344.61" y2="269.80" stroke="#333" stroke-width="0.8" />
<line x1="346.80" y1="267.00" x2="346.80" y2="269.80" stroke="#333" stroke-width="0.8" />
<line x1="348.59" y1="267.00" x2="348.59" y2="269.80" stroke="#333" stroke-width="0.8" />
<line x1="350.10" y1="267.00" x2="350.10" y2="269.80" stroke="#333" stroke-width="0.8" />
<line x1="351.41" y1="267.00" x2="351.41" y2="269.80" stroke="#333" stroke-width="0.8" />
<line x1="352.57" y1="267.00" x2="352.57" y2="269.80" stroke="#333" stroke-width="0.8" />
<line x1="353.60" y1="267.00" x2="353.60" y2="269.80" stroke="#333" stroke-width="0.8" />
<line x1="360.40" y1="267.00" x2="360.40" y2="269.80" stroke="#333" stroke-width="0.8" />
<line x1="364.38" y1="267.00" x2="364.38" y2="269.80" stroke="#333" stroke-width="0.8" />
<line x1="367.21" y1="267.00" x2="367.21" y2="269.80" stroke="#333" stroke-width="0.8" />
<line x1="369.40" y1="267.00" x2="369.40" y2="269.80" stroke="#333" stroke-width="0.8" />
<line x1="371.19" y1="267.00" x2="371.19" y2="269.80" stroke="#333" stroke-width="0.8" />
<line x1="372.70" y1="267.00" x2="372.70" y2="269.80" stroke="#333" stroke-width="0.8" />
<line x1="374.01" y1="267.00" x2="374.01" y2="269.80" stroke="#333" stroke-width="0.8" />
<line x1="375.17" y1="267.00" x2="375.17" y2="269.80" stroke="#333" stroke-width="0.8" />
<line x1="375.70" y1="267.00" x2="375.70" y2="269.80" stroke="#333" stroke-width="0.8" />
<line x1="290.80" y1="276.30" x2="318.00" y2="276.30" stroke="#111" stroke-width="1.1" />
<path d="M316.2,274.1 L321.3,276.3 L316.2,278.5 Z" fill="#111"/>
<text x="291.00" y="286.20" font-size="8" text-anchor="start" fill="#222" font-weight="normal" font-style="normal" textLength="30.00" lengthAdjust="spacingAndGlyphs" class="t" >2-NBDG</text>
<text x="391.40" y="166.10" font-size="12" text-anchor="start" fill="#000" font-weight="bold" font-style="normal" >F</text>
<line x1="419.40" y1="187.00" x2="419.40" y2="267.20" stroke="#1a1a1a" stroke-width="1.6" />
<line x1="416.90" y1="267.20" x2="419.40" y2="267.20" stroke="#1a1a1a" stroke-width="1.6" />
<text x="414.40" y="270.10" font-size="8.5" text-anchor="end" fill="#222" font-weight="normal" font-style="normal" class="t" >0</text>
<line x1="416.90" y1="251.70" x2="419.40" y2="251.70" stroke="#1a1a1a" stroke-width="1.6" />
<text x="414.40" y="254.60" font-size="8.5" text-anchor="end" fill="#222" font-weight="normal" font-style="normal" class="t" >2</text>
<line x1="416.90" y1="236.20" x2="419.40" y2="236.20" stroke="#1a1a1a" stroke-width="1.6" />
<text x="414.40" y="239.10" font-size="8.5" text-anchor="end" fill="#222" font-weight="normal" font-style="normal" class="t" >4</text>
<line x1="416.90" y1="220.70" x2="419.40" y2="220.70" stroke="#1a1a1a" stroke-width="1.6" />
<text x="414.40" y="223.60" font-size="8.5" text-anchor="end" fill="#222" font-weight="normal" font-style="normal" class="t" >6</text>
<line x1="416.90" y1="205.20" x2="419.40" y2="205.20" stroke="#1a1a1a" stroke-width="1.6" />
<text x="414.40" y="208.10" font-size="8.5" text-anchor="end" fill="#222" font-weight="normal" font-style="normal" class="t" >8</text>
<line x1="416.90" y1="189.70" x2="419.40" y2="189.70" stroke="#1a1a1a" stroke-width="1.6" />
<text x="414.40" y="192.60" font-size="8.5" text-anchor="end" fill="#222" font-weight="normal" font-style="normal" class="t" >10</text>
<line x1="416.50" y1="267.20" x2="419.00" y2="267.20" stroke="#1a1a1a" stroke-width="1.1" />
<line x1="419.00" y1="267.20" x2="510.60" y2="267.20" stroke="#1a1a1a" stroke-width="1.1" />
<line x1="442.40" y1="267.20" x2="442.40" y2="270.00" stroke="#1a1a1a" stroke-width="1.1" />
<line x1="487.70" y1="267.20" x2="487.70" y2="270.00" stroke="#1a1a1a" stroke-width="1.1" />
<text x="442.40" y="280.60" font-size="8.4" text-anchor="middle" fill="#222" font-weight="normal" font-style="normal" class="t" >αCD3</text>
<text x="487.70" y="280.60" font-size="8.4" text-anchor="middle" fill="#222" font-weight="normal" font-style="normal" class="t" >αCD3/αCD28</text>
<text transform="translate(398.4,260.9) rotate(-90)" font-size="8.3" fill="#222" textLength="61.6" lengthAdjust="spacingAndGlyphs">2NBDG G-MFI (x10</text>
<text transform="translate(395.4,198.9) rotate(-90)" font-size="5.6" fill="#222">3</text>
<text transform="translate(398.4,195.3) rotate(-90)" font-size="8.3" fill="#222">)</text>
<line x1="433.85" y1="237.70" x2="433.85" y2="235.50" stroke="#1a1a1a" stroke-width="1.25" />
<line x1="431.10" y1="237.70" x2="436.60" y2="237.70" stroke="#1a1a1a" stroke-width="1.25" />
<line x1="431.10" y1="235.50" x2="436.60" y2="235.50" stroke="#1a1a1a" stroke-width="1.25" />
<rect x="428.95" y="236.95" width="9.80" height="30.25" fill="#2c4a86" stroke="#15357a" stroke-width="0.7"/>
<line x1="450.90" y1="230.40" x2="450.90" y2="225.20" stroke="#1a1a1a" stroke-width="1.25" />
<line x1="448.15" y1="230.40" x2="453.65" y2="230.40" stroke="#1a1a1a" stroke-width="1.25" />
<line x1="448.15" y1="225.20" x2="453.65" y2="225.20" stroke="#1a1a1a" stroke-width="1.25" />
<rect x="446.05" y="228.15" width="9.70" height="39.05" fill="#a5002b" stroke="#8e001f" stroke-width="0.7"/>
<line x1="479.50" y1="230.00" x2="479.50" y2="227.40" stroke="#1a1a1a" stroke-width="1.25" />
<line x1="476.75" y1="230.00" x2="482.25" y2="230.00" stroke="#1a1a1a" stroke-width="1.25" />
<line x1="476.75" y1="227.40" x2="482.25" y2="227.40" stroke="#1a1a1a" stroke-width="1.25" />
<rect x="474.35" y="229.05" width="10.30" height="38.15" fill="#2c4a86" stroke="#15357a" stroke-width="0.7"/>
<rect x="491.35" y="203.55" width="10.10" height="63.65" fill="#a5002b" stroke="#8e001f" stroke-width="0.7"/>
<line x1="496.40" y1="209.60" x2="496.40" y2="196.80" stroke="#1a1a1a" stroke-width="1.25" />
<line x1="493.65" y1="209.60" x2="499.15" y2="209.60" stroke="#1a1a1a" stroke-width="1.25" />
<line x1="493.65" y1="196.80" x2="499.15" y2="196.80" stroke="#1a1a1a" stroke-width="1.25" />
<rect x="424.35" y="187.95" width="10.30" height="4.15" fill="#2c4a86" stroke="#15357a" stroke-width="0.7"/>
<rect x="424.35" y="199.55" width="10.30" height="4.25" fill="#a5002b" stroke="#8e001f" stroke-width="0.7"/>
<text x="438.30" y="191.90" font-size="8" fill="#222" text-anchor="start"><tspan font-style="italic">Crbn</tspan><tspan font-size="5.28" dy="-3.60" letter-spacing="0.35" style="stroke-width:0.15px">+/+</tspan></text>
<text x="438.30" y="203.30" font-size="8" fill="#222" text-anchor="start"><tspan font-style="italic">Crbn</tspan><tspan font-size="5.28" dy="-3.60" letter-spacing="0.35" style="stroke-width:0.15px">-/-</tspan></text>
<line x1="432.80" y1="219.40" x2="451.60" y2="219.40" stroke="#444" stroke-width="1.25" />
<text x="442.20" y="218.10" font-size="6.8" text-anchor="middle" fill="#222">*</text>
<line x1="477.60" y1="189.40" x2="496.90" y2="189.40" stroke="#444" stroke-width="1.25" />
<text x="487.30" y="188.10" font-size="6.8" text-anchor="middle" fill="#222">*</text>
<text x="6.80" y="312.70" font-size="12" text-anchor="start" fill="#000" font-weight="bold" font-style="normal" >G</text>
<line x1="45.50" y1="321.30" x2="45.50" y2="400.30" stroke="#1a1a1a" stroke-width="1.1" />
<line x1="43.00" y1="400.00" x2="45.50" y2="400.00" stroke="#1a1a1a" stroke-width="1.1" />
<text x="39.40" y="402.90" font-size="8.2" text-anchor="end" fill="#222" font-weight="normal" font-style="normal" class="t" >0</text>
<line x1="43.00" y1="384.80" x2="45.50" y2="384.80" stroke="#1a1a1a" stroke-width="1.1" />
<text x="39.40" y="387.70" font-size="8.2" text-anchor="end" fill="#222" font-weight="normal" font-style="normal" class="t" >2</text>
<line x1="43.00" y1="369.60" x2="45.50" y2="369.60" stroke="#1a1a1a" stroke-width="1.1" />
<text x="39.40" y="372.50" font-size="8.2" text-anchor="end" fill="#222" font-weight="normal" font-style="normal" class="t" >4</text>
<line x1="43.00" y1="354.40" x2="45.50" y2="354.40" stroke="#1a1a1a" stroke-width="1.1" />
<text x="39.40" y="357.30" font-size="8.2" text-anchor="end" fill="#222" font-weight="normal" font-style="normal" class="t" >6</text>
<line x1="43.00" y1="339.20" x2="45.50" y2="339.20" stroke="#1a1a1a" stroke-width="1.1" />
<text x="39.40" y="342.10" font-size="8.2" text-anchor="end" fill="#222" font-weight="normal" font-style="normal" class="t" >8</text>
<line x1="43.00" y1="324.00" x2="45.50" y2="324.00" stroke="#1a1a1a" stroke-width="1.1" />
<text x="39.40" y="326.90" font-size="8.2" text-anchor="end" fill="#222" font-weight="normal" font-style="normal" class="t" >10</text>
<line x1="42.60" y1="400.30" x2="89.70" y2="400.30" stroke="#1a1a1a" stroke-width="1.0" />
<line x1="56.60" y1="400.00" x2="56.60" y2="403.00" stroke="#1a1a1a" stroke-width="1.1" />
<line x1="78.50" y1="400.00" x2="78.50" y2="403.00" stroke="#1a1a1a" stroke-width="1.1" />
<line x1="56.50" y1="380.20" x2="56.50" y2="378.20" stroke="#1a1a1a" stroke-width="1.25" />
<line x1="53.75" y1="380.20" x2="59.25" y2="380.20" stroke="#1a1a1a" stroke-width="1.25" />
<line x1="53.75" y1="378.20" x2="59.25" y2="378.20" stroke="#1a1a1a" stroke-width="1.25" />
<rect x="49.25" y="379.55" width="14.50" height="20.45" fill="#2c4a86" stroke="#15357a" stroke-width="0.7"/>
<line x1="78.60" y1="341.20" x2="78.60" y2="339.60" stroke="#1a1a1a" stroke-width="1.25" />
<line x1="75.85" y1="341.20" x2="81.35" y2="341.20" stroke="#1a1a1a" stroke-width="1.25" />
<line x1="75.85" y1="339.60" x2="81.35" y2="339.60" stroke="#1a1a1a" stroke-width="1.25" />
<rect x="71.35" y="340.75" width="14.50" height="59.25" fill="#a5002b" stroke="#8e001f" stroke-width="0.7"/>
<line x1="58.70" y1="331.30" x2="77.90" y2="331.30" stroke="#444" stroke-width="1.25" />
<text x="63.12" y="330.40" font-size="6.8" text-anchor="middle" fill="#222">*</text>
<text x="66.58" y="330.40" font-size="6.8" text-anchor="middle" fill="#222">*</text>
<text x="70.03" y="330.40" font-size="6.8" text-anchor="middle" fill="#222">*</text>
<text x="73.47" y="330.40" font-size="6.8" text-anchor="middle" fill="#222">*</text>
<text transform="translate(14.00,360.60) rotate(-90)" x="0" y="0" font-size="8" text-anchor="middle" fill="#222" textLength="35.00" lengthAdjust="spacingAndGlyphs">HK activity</text>
<text transform="translate(25.00,360.65) rotate(-90)" x="0" y="0" font-size="8" text-anchor="middle" fill="#222" textLength="53.70" lengthAdjust="spacingAndGlyphs">(nmol/mL/min)</text>
<text transform="translate(61.80,410.10) rotate(-45)" x="0" y="0" font-size="8.4" text-anchor="end" fill="#222"><tspan font-style="italic">Crbn</tspan><tspan font-size="5.54" dy="-3.53" letter-spacing="0.3">+/+</tspan></text>
<text transform="translate(85.60,410.10) rotate(-45)" x="0" y="0" font-size="8.4" text-anchor="end" fill="#222"><tspan font-style="italic">Crbn</tspan><tspan font-size="5.54" dy="-3.53" letter-spacing="0.3">-/-</tspan></text>
<text x="105.20" y="312.70" font-size="12" text-anchor="start" fill="#000" font-weight="bold" font-style="normal" >H</text>
<line x1="129.00" y1="318.70" x2="129.00" y2="400.30" stroke="#1a1a1a" stroke-width="1.6" />
<line x1="126.50" y1="399.90" x2="129.00" y2="399.90" stroke="#1a1a1a" stroke-width="1.6" />
<text x="123.40" y="402.80" font-size="8.2" text-anchor="end" fill="#222" font-weight="normal" font-style="normal" class="t" >0</text>
<line x1="126.50" y1="384.20" x2="129.00" y2="384.20" stroke="#1a1a1a" stroke-width="1.6" />
<text x="123.40" y="387.10" font-size="8.2" text-anchor="end" fill="#222" font-weight="normal" font-style="normal" class="t" >1</text>
<line x1="126.50" y1="368.50" x2="129.00" y2="368.50" stroke="#1a1a1a" stroke-width="1.6" />
<text x="123.40" y="371.40" font-size="8.2" text-anchor="end" fill="#222" font-weight="normal" font-style="normal" class="t" >2</text>
<line x1="126.50" y1="352.80" x2="129.00" y2="352.80" stroke="#1a1a1a" stroke-width="1.6" />
<text x="123.40" y="355.70" font-size="8.2" text-anchor="end" fill="#222" font-weight="normal" font-style="normal" class="t" >3</text>
<line x1="126.50" y1="337.10" x2="129.00" y2="337.10" stroke="#1a1a1a" stroke-width="1.6" />
<text x="123.40" y="340.00" font-size="8.2" text-anchor="end" fill="#222" font-weight="normal" font-style="normal" class="t" >4</text>
<line x1="126.50" y1="321.40" x2="129.00" y2="321.40" stroke="#1a1a1a" stroke-width="1.6" />
<text x="123.40" y="324.30" font-size="8.2" text-anchor="end" fill="#222" font-weight="normal" font-style="normal" class="t" >5</text>
<line x1="126.20" y1="400.30" x2="175.90" y2="400.30" stroke="#1a1a1a" stroke-width="1.0" />
<line x1="140.40" y1="399.90" x2="140.40" y2="403.00" stroke="#1a1a1a" stroke-width="1.1" />
<line x1="164.00" y1="399.90" x2="164.00" y2="403.00" stroke="#1a1a1a" stroke-width="1.1" />
<rect x="133.25" y="369.05" width="14.70" height="30.85" fill="#2c4a86" stroke="#15357a" stroke-width="0.7"/>
<line x1="140.60" y1="372.10" x2="140.60" y2="364.40" stroke="#1a1a1a" stroke-width="1.25" />
<line x1="137.60" y1="372.10" x2="143.60" y2="372.10" stroke="#1a1a1a" stroke-width="1.25" />
<line x1="137.60" y1="364.40" x2="143.60" y2="364.40" stroke="#1a1a1a" stroke-width="1.25" />
<rect x="156.85" y="343.25" width="14.70" height="56.65" fill="#a5002b" stroke="#8e001f" stroke-width="0.7"/>
<line x1="164.20" y1="347.30" x2="164.20" y2="338.70" stroke="#1a1a1a" stroke-width="1.25" />
<line x1="161.20" y1="347.30" x2="167.20" y2="347.30" stroke="#1a1a1a" stroke-width="1.25" />
<line x1="161.20" y1="338.70" x2="167.20" y2="338.70" stroke="#1a1a1a" stroke-width="1.25" />
<line x1="143.10" y1="330.40" x2="162.70" y2="330.40" stroke="#444" stroke-width="1.25" />
<text x="151.18" y="329.10" font-size="6.8" text-anchor="middle" fill="#222">*</text>
<text x="154.62" y="329.10" font-size="6.8" text-anchor="middle" fill="#222">*</text>
<text transform="translate(113.00,357.90) rotate(-90)" x="0" y="0" font-size="8" text-anchor="middle" fill="#222" textLength="56.60" lengthAdjust="spacingAndGlyphs">NAD/NADH ratio</text>
<text transform="translate(145.30,410.10) rotate(-45)" x="0" y="0" font-size="8.4" text-anchor="end" fill="#222"><tspan font-style="italic">Crbn</tspan><tspan font-size="5.54" dy="-3.53" letter-spacing="0.3">+/+</tspan></text>
<text transform="translate(169.10,410.10) rotate(-45)" x="0" y="0" font-size="8.4" text-anchor="end" fill="#222"><tspan font-style="italic">Crbn</tspan><tspan font-size="5.54" dy="-3.53" letter-spacing="0.3">-/-</tspan></text>
<text x="196.60" y="312.70" font-size="12" text-anchor="start" fill="#000" font-weight="bold" font-style="normal" >I</text>
<line x1="223.00" y1="319.09" x2="223.00" y2="400.30" stroke="#1a1a1a" stroke-width="1.1" />
<line x1="220.50" y1="400.30" x2="223.00" y2="400.30" stroke="#1a1a1a" stroke-width="1.1" />
<text x="217.00" y="403.20" font-size="8.4" text-anchor="end" fill="#222" font-weight="normal" font-style="normal" class="t" >0</text>
<line x1="220.50" y1="374.13" x2="223.00" y2="374.13" stroke="#1a1a1a" stroke-width="1.1" />
<text x="217.00" y="377.03" font-size="8.4" text-anchor="end" fill="#222" font-weight="normal" font-style="normal" class="t" >10</text>
<line x1="220.50" y1="347.96" x2="223.00" y2="347.96" stroke="#1a1a1a" stroke-width="1.1" />
<text x="217.00" y="350.86" font-size="8.4" text-anchor="end" fill="#222" font-weight="normal" font-style="normal" class="t" >20</text>
<line x1="220.50" y1="321.79" x2="223.00" y2="321.79" stroke="#1a1a1a" stroke-width="1.1" />
<text x="217.00" y="324.69" font-size="8.4" text-anchor="end" fill="#222" font-weight="normal" font-style="normal" class="t" >30</text>
<line x1="220.40" y1="400.30" x2="276.70" y2="400.30" stroke="#1a1a1a" stroke-width="1.0" />
<line x1="238.30" y1="400.30" x2="238.30" y2="403.30" stroke="#1a1a1a" stroke-width="1.1" />
<line x1="261.30" y1="400.30" x2="261.30" y2="403.30" stroke="#1a1a1a" stroke-width="1.1" />
<rect x="231.35" y="336.15" width="14.00" height="64.15" fill="#2c4a86" stroke="#15357a" stroke-width="0.7"/>
<line x1="238.35" y1="338.00" x2="238.35" y2="332.30" stroke="#1a1a1a" stroke-width="1.25" />
<line x1="235.35" y1="338.00" x2="241.35" y2="338.00" stroke="#1a1a1a" stroke-width="1.25" />
<line x1="235.35" y1="332.30" x2="241.35" y2="332.30" stroke="#1a1a1a" stroke-width="1.25" />
<rect x="254.35" y="334.95" width="14.10" height="65.35" fill="#a5002b" stroke="#8e001f" stroke-width="0.7"/>
<line x1="261.40" y1="337.10" x2="261.40" y2="331.30" stroke="#1a1a1a" stroke-width="1.25" />
<line x1="258.40" y1="337.10" x2="264.40" y2="337.10" stroke="#1a1a1a" stroke-width="1.25" />
<line x1="258.40" y1="331.30" x2="264.40" y2="331.30" stroke="#1a1a1a" stroke-width="1.25" />
<line x1="240.40" y1="325.00" x2="259.00" y2="325.00" stroke="#333" stroke-width="1.1" />
<text x="249.60" y="322.00" font-size="7.4" text-anchor="middle" fill="#333" font-weight="normal" font-style="normal" class="t" >n.s.</text>
<text transform="translate(203.00,358.90) rotate(-90)" x="0" y="0" font-size="8" text-anchor="middle" fill="#222">ATPlite (lum x 10<tspan font-size="5" dy="-3">4</tspan><tspan dy="3">)</tspan></text>
<text transform="translate(243.50,410.10) rotate(-45)" x="0" y="0" font-size="8.4" text-anchor="end" fill="#222"><tspan font-style="italic">Crbn</tspan><tspan font-size="5.54" dy="-3.53" letter-spacing="0.3">+/+</tspan></text>
<text transform="translate(266.30,410.10) rotate(-45)" x="0" y="0" font-size="8.4" text-anchor="end" fill="#222"><tspan font-style="italic">Crbn</tspan><tspan font-size="5.54" dy="-3.53" letter-spacing="0.3">-/-</tspan></text>
<text x="294.60" y="312.70" font-size="12" text-anchor="start" fill="#000" font-weight="bold" font-style="normal" >J</text>
<line x1="322.80" y1="324.40" x2="322.80" y2="400.30" stroke="#1a1a1a" stroke-width="1.6" />
<line x1="320.30" y1="400.00" x2="322.80" y2="400.00" stroke="#1a1a1a" stroke-width="1.6" />
<text x="317.20" y="402.90" font-size="8.5" text-anchor="end" fill="#222" font-weight="normal" font-style="normal" class="t" >0.0</text>
<line x1="320.30" y1="375.70" x2="322.80" y2="375.70" stroke="#1a1a1a" stroke-width="1.6" />
<text x="317.20" y="378.60" font-size="8.5" text-anchor="end" fill="#222" font-weight="normal" font-style="normal" class="t" >0.5</text>
<line x1="320.30" y1="351.40" x2="322.80" y2="351.40" stroke="#1a1a1a" stroke-width="1.6" />
<text x="317.20" y="354.30" font-size="8.5" text-anchor="end" fill="#222" font-weight="normal" font-style="normal" class="t" >1.0</text>
<line x1="320.30" y1="327.10" x2="322.80" y2="327.10" stroke="#1a1a1a" stroke-width="1.6" />
<text x="317.20" y="330.00" font-size="8.5" text-anchor="end" fill="#222" font-weight="normal" font-style="normal" class="t" >1.5</text>
<line x1="320.20" y1="400.30" x2="422.80" y2="400.30" stroke="#1a1a1a" stroke-width="1.0" />
<line x1="335.80" y1="400.00" x2="335.80" y2="402.80" stroke="#1a1a1a" stroke-width="1.1" />
<text x="335.80" y="412.90" font-size="8" text-anchor="middle" fill="#222" font-weight="normal" font-style="normal" class="t" >0.0</text>
<line x1="360.50" y1="400.00" x2="360.50" y2="402.80" stroke="#1a1a1a" stroke-width="1.1" />
<text x="360.50" y="412.90" font-size="8" text-anchor="middle" fill="#222" font-weight="normal" font-style="normal" class="t" >0.08</text>
<line x1="385.30" y1="400.00" x2="385.30" y2="402.80" stroke="#1a1a1a" stroke-width="1.1" />
<text x="385.30" y="412.90" font-size="8" text-anchor="middle" fill="#222" font-weight="normal" font-style="normal" class="t" >0.4</text>
<line x1="410.70" y1="400.00" x2="410.70" y2="402.80" stroke="#1a1a1a" stroke-width="1.1" />
<text x="410.70" y="412.90" font-size="8" text-anchor="middle" fill="#222" font-weight="normal" font-style="normal" class="t" >2</text>
<text x="372.80" y="425.80" font-size="8" text-anchor="middle" fill="#222" font-weight="normal" font-style="normal" class="t" >2-DG (mM)</text>
<text transform="translate(299.00,361.50) rotate(-90)" x="0" y="0" font-size="8" text-anchor="middle" fill="#222" textLength="47.50" lengthAdjust="spacingAndGlyphs">Division index</text>
<circle cx="388.20" cy="328.00" r="1.75" fill="#2c4a86"/>
<rect x="386.60" y="337.60" width="3.2" height="3.2" fill="#a5002b"/>
<text x="393.40" y="330.20" font-size="8.2" fill="#222" text-anchor="start"><tspan font-style="italic">Crbn</tspan><tspan font-size="5.41" dy="-3.69" letter-spacing="0.35" style="stroke-width:0.15px">+/+</tspan></text>
<text x="393.40" y="341.60" font-size="8.2" fill="#222" text-anchor="start"><tspan font-style="italic">Crbn</tspan><tspan font-size="5.41" dy="-3.69" letter-spacing="0.35" style="stroke-width:0.15px">-/-</tspan></text>
<circle cx="330.90" cy="347.50" r="1.45" fill="#2c4a86"/>
<circle cx="328.80" cy="350.30" r="1.45" fill="#2c4a86"/>
<circle cx="332.20" cy="353.40" r="1.45" fill="#2c4a86"/>
<circle cx="334.00" cy="354.80" r="1.45" fill="#2c4a86"/>
<circle cx="332.20" cy="356.50" r="1.45" fill="#2c4a86"/>
<circle cx="329.10" cy="359.90" r="1.45" fill="#2c4a86"/>
<line x1="327.50" y1="353.40" x2="334.50" y2="353.40" stroke="#2c4a86" stroke-width="1.0" />
<line x1="331.00" y1="351.50" x2="331.00" y2="355.70" stroke="#111" stroke-width="0.9" />
<line x1="329.75" y1="351.50" x2="332.25" y2="351.50" stroke="#111" stroke-width="0.9" />
<line x1="329.75" y1="355.70" x2="332.25" y2="355.70" stroke="#111" stroke-width="0.9" />
<rect x="336.65" y="333.45" width="2.7" height="2.7" fill="#a5002b"/>
<rect x="340.45" y="334.25" width="2.7" height="2.7" fill="#a5002b"/>
<rect x="336.85" y="339.85" width="2.7" height="2.7" fill="#a5002b"/>
<rect x="339.65" y="341.55" width="2.7" height="2.7" fill="#a5002b"/>
<rect x="339.95" y="343.45" width="2.7" height="2.7" fill="#a5002b"/>
<rect x="338.65" y="345.45" width="2.7" height="2.7" fill="#a5002b"/>
<line x1="337.20" y1="341.30" x2="343.10" y2="341.30" stroke="#a5002b" stroke-width="1.0" />
<line x1="340.10" y1="338.60" x2="340.10" y2="343.70" stroke="#111" stroke-width="0.9" />
<line x1="338.85" y1="338.60" x2="341.35" y2="338.60" stroke="#111" stroke-width="0.9" />
<line x1="338.85" y1="343.70" x2="341.35" y2="343.70" stroke="#111" stroke-width="0.9" />
<circle cx="354.00" cy="368.50" r="1.45" fill="#2c4a86"/>
<circle cx="357.70" cy="369.00" r="1.45" fill="#2c4a86"/>
<circle cx="353.50" cy="372.20" r="1.45" fill="#2c4a86"/>
<circle cx="356.80" cy="371.60" r="1.45" fill="#2c4a86"/>
<circle cx="357.00" cy="374.80" r="1.45" fill="#2c4a86"/>
<circle cx="355.60" cy="375.70" r="1.45" fill="#2c4a86"/>
<line x1="352.60" y1="372.40" x2="358.80" y2="372.40" stroke="#2c4a86" stroke-width="1.0" />
<line x1="355.70" y1="370.20" x2="355.70" y2="373.60" stroke="#111" stroke-width="0.9" />
<line x1="354.45" y1="370.20" x2="356.95" y2="370.20" stroke="#111" stroke-width="0.9" />
<line x1="354.45" y1="373.60" x2="356.95" y2="373.60" stroke="#111" stroke-width="0.9" />
<rect x="364.85" y="361.65" width="2.7" height="2.7" fill="#a5002b"/>
<rect x="362.55" y="363.75" width="2.7" height="2.7" fill="#a5002b"/>
<rect x="365.15" y="364.85" width="2.7" height="2.7" fill="#a5002b"/>
<rect x="365.35" y="370.15" width="2.7" height="2.7" fill="#a5002b"/>
<rect x="362.15" y="373.65" width="2.7" height="2.7" fill="#a5002b"/>
<rect x="363.85" y="367.65" width="2.7" height="2.7" fill="#a5002b"/>
<line x1="362.00" y1="368.40" x2="368.30" y2="368.40" stroke="#a5002b" stroke-width="1.0" />
<line x1="365.20" y1="366.50" x2="365.20" y2="370.50" stroke="#111" stroke-width="0.9" />
<line x1="363.95" y1="366.50" x2="366.45" y2="366.50" stroke="#111" stroke-width="0.9" />
<line x1="363.95" y1="370.50" x2="366.45" y2="370.50" stroke="#111" stroke-width="0.9" />
<circle cx="379.20" cy="393.80" r="1.45" fill="#2c4a86"/>
<circle cx="380.60" cy="394.60" r="1.45" fill="#2c4a86"/>
<circle cx="382.00" cy="393.60" r="1.45" fill="#2c4a86"/>
<circle cx="383.00" cy="394.40" r="1.45" fill="#2c4a86"/>
<circle cx="380.80" cy="393.00" r="1.45" fill="#2c4a86"/>
<circle cx="380.00" cy="395.00" r="1.45" fill="#2c4a86"/>
<line x1="378.00" y1="394.00" x2="383.60" y2="394.00" stroke="#2c4a86" stroke-width="1.0" />
<line x1="380.70" y1="393.00" x2="380.70" y2="395.00" stroke="#111" stroke-width="0.9" />
<line x1="379.45" y1="393.00" x2="381.95" y2="393.00" stroke="#111" stroke-width="0.9" />
<line x1="379.45" y1="395.00" x2="381.95" y2="395.00" stroke="#111" stroke-width="0.9" />
<rect x="387.25" y="389.25" width="2.7" height="2.7" fill="#a5002b"/>
<rect x="389.45" y="388.95" width="2.7" height="2.7" fill="#a5002b"/>
<rect x="387.65" y="391.25" width="2.7" height="2.7" fill="#a5002b"/>
<rect x="390.25" y="391.55" width="2.7" height="2.7" fill="#a5002b"/>
<rect x="388.45" y="393.45" width="2.7" height="2.7" fill="#a5002b"/>
<rect x="389.85" y="394.25" width="2.7" height="2.7" fill="#a5002b"/>
<line x1="387.00" y1="393.00" x2="392.90" y2="393.00" stroke="#a5002b" stroke-width="1.0" />
<line x1="389.90" y1="391.30" x2="389.90" y2="394.80" stroke="#111" stroke-width="0.9" />
<line x1="388.65" y1="391.30" x2="391.15" y2="391.30" stroke="#111" stroke-width="0.9" />
<line x1="388.65" y1="394.80" x2="391.15" y2="394.80" stroke="#111" stroke-width="0.9" />
<circle cx="404.40" cy="398.60" r="1.45" fill="#2c4a86"/>
<circle cx="406.00" cy="399.00" r="1.45" fill="#2c4a86"/>
<circle cx="407.60" cy="398.60" r="1.45" fill="#2c4a86"/>
<circle cx="405.30" cy="399.60" r="1.45" fill="#2c4a86"/>
<circle cx="408.20" cy="399.40" r="1.45" fill="#2c4a86"/>
<circle cx="406.50" cy="398.20" r="1.45" fill="#2c4a86"/>
<line x1="403.50" y1="399.00" x2="409.00" y2="399.00" stroke="#2c4a86" stroke-width="1.0" />
<line x1="406.20" y1="398.30" x2="406.20" y2="399.70" stroke="#111" stroke-width="0.9" />
<line x1="404.95" y1="398.30" x2="407.45" y2="398.30" stroke="#111" stroke-width="0.9" />
<line x1="404.95" y1="399.70" x2="407.45" y2="399.70" stroke="#111" stroke-width="0.9" />
<rect x="412.45" y="397.35" width="2.7" height="2.7" fill="#a5002b"/>
<rect x="414.05" y="396.95" width="2.7" height="2.7" fill="#a5002b"/>
<rect x="415.85" y="397.35" width="2.7" height="2.7" fill="#a5002b"/>
<rect x="413.45" y="398.15" width="2.7" height="2.7" fill="#a5002b"/>
<rect x="415.45" y="398.35" width="2.7" height="2.7" fill="#a5002b"/>
<rect x="414.45" y="397.55" width="2.7" height="2.7" fill="#a5002b"/>
<line x1="413.00" y1="398.90" x2="418.60" y2="398.90" stroke="#a5002b" stroke-width="1.0" />
<line x1="415.80" y1="398.20" x2="415.80" y2="399.60" stroke="#111" stroke-width="0.9" />
<line x1="414.55" y1="398.20" x2="417.05" y2="398.20" stroke="#111" stroke-width="0.9" />
<line x1="414.55" y1="399.60" x2="417.05" y2="399.60" stroke="#111" stroke-width="0.9" />
<line x1="326.10" y1="329.40" x2="345.40" y2="329.40" stroke="#444" stroke-width="1.2" />
<text x="330.52" y="327.60" font-size="6.8" text-anchor="middle" fill="#222">*</text>
<text x="333.97" y="327.60" font-size="6.8" text-anchor="middle" fill="#222">*</text>
<text x="337.42" y="327.60" font-size="6.8" text-anchor="middle" fill="#222">*</text>
<text x="340.88" y="327.60" font-size="6.8" text-anchor="middle" fill="#222">*</text>
<line x1="351.00" y1="357.80" x2="370.30" y2="357.80" stroke="#555" stroke-width="1.3" />
<text x="360.65" y="354.50" font-size="7.4" text-anchor="middle" fill="#333" font-weight="normal" font-style="normal" class="t" >n.s.</text>
<line x1="375.80" y1="382.80" x2="394.70" y2="382.80" stroke="#555" stroke-width="1.3" />
<text x="385.25" y="379.50" font-size="7.4" text-anchor="middle" fill="#333" font-weight="normal" font-style="normal" class="t" >n.s.</text>
<line x1="401.00" y1="390.00" x2="419.80" y2="390.00" stroke="#555" stroke-width="1.3" />
<text x="410.40" y="386.70" font-size="7.4" text-anchor="middle" fill="#333" font-weight="normal" font-style="normal" class="t" >n.s.</text>
<rect x="0.00" y="0.00" width="520.00" height="1.15" fill="#000" />
<rect x="0.00" y="0.00" width="1.05" height="436.00" fill="#000" />
<rect x="518.90" y="0.00" width="1.10" height="436.00" fill="#000" />
<rect x="0.00" y="434.70" width="520.00" height="1.30" fill="#000" />
</svg>
</body></html>
